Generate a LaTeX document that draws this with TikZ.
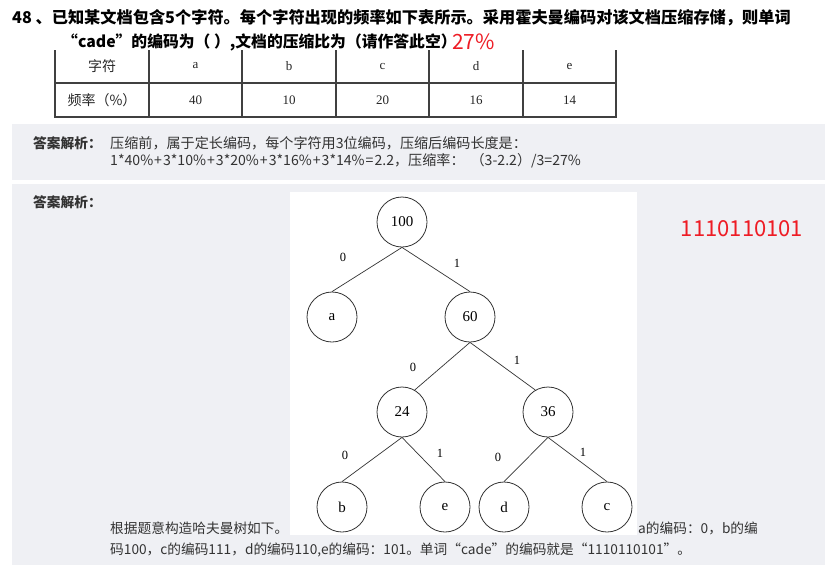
\documentclass[tikz,border=0pt]{standalone}
\usepackage{fontspec}
\newfontfamily\cjk{Noto Sans CJK SC}
\newfontfamily\tsong{Noto Sans CJK SC}
\newfontfamily\seriffont{Liberation Serif}
\definecolor{panel}{HTML}{EFF0F4}
\definecolor{ansred}{HTML}{EE1C25}
\definecolor{txt}{HTML}{333333}
\begin{document}
\begin{tikzpicture}[x=1pt,y=-1pt,
  tx/.style={inner sep=0pt, anchor=west, text=txt, font=\cjk\fontsize{13.7}{16}\selectfont},
  tt/.style={inner sep=0pt, anchor=west, text=black, font=\cjk\bfseries\fontsize{16.2}{19}\selectfont},
  tcell/.style={inner sep=0pt, text=black!85, font=\seriffont\fontsize{13}{15}\selectfont},
  tnode/.style={circle, draw=black!80, line width=0.8pt, minimum size=50pt, inner sep=0pt, font=\seriffont\fontsize{15}{17}\selectfont},
  tedge/.style={draw=black!80, line width=0.7pt},
  elab/.style={inner sep=0pt, font=\seriffont\fontsize{12.5}{14}\selectfont},
  tline/.style={draw=black!75, line width=1.6pt}]
\useasboundingbox (0,0) rectangle (840,576);
\fill[white] (0,0) rectangle (840,576);
% panels
\fill[panel] (12,124) rectangle (825,180);
\fill[panel] (12,184) rectangle (825,565);
% title
\node[tt] (t1) at (12,18) {48 、已知某文档包含5个字符。每个字符出现的频率如下表所示。采用霍夫曼编码对该文档压缩存储，则单词};
\node[tt, font=\cjk\bfseries\fontsize{15.8}{19}\selectfont] (t2) at (62,42) {“cade”的编码为（ ）,文档的压缩比为（请作答此空）};
\node[inner sep=0pt, anchor=west, text=ansred, font=\cjk\fontsize{21}{24}\selectfont] (t3) at (452,42) {27\%};
% table
\foreach \x in {55,149,242,336,429,523,616} \draw[tline] (\x,50) -- (\x,117);
\draw[tline] (55,83) -- (616,83);
\draw[tline] (54.2,117) -- (616.8,117);
\node[tcell, font=\tsong\fontsize{14}{16}\selectfont] (h0) at (102,66) {字符};
\node[tcell] (h1) at (195.5,66) {a};
\node[tcell] (h2) at (289,66) {b};
\node[tcell] (h3) at (382.5,66) {c};
\node[tcell] (h4) at (476,66) {d};
\node[tcell] (h5) at (569.5,66) {e};
\node[tcell, font=\tsong\fontsize{14}{16}\selectfont] (r0) at (102,100) {频率（\%）};
\node[tcell] (r1) at (195.5,100) {40};
\node[tcell] (r2) at (289,100) {10};
\node[tcell] (r3) at (382.5,100) {20};
\node[tcell] (r4) at (476,100) {16};
\node[tcell] (r5) at (569.5,100) {14};
% panel 1
\node[tx, font=\cjk\bfseries\fontsize{13.7}{16}\selectfont] (p1) at (33,143) {答案解析：};
\node[tx, font=\cjk\fontsize{14.1}{16}\selectfont] (p1a) at (110,143) {压缩前，属于定长编码，每个字符用3位编码，压缩后编码长度是：};
\node[tx, font=\cjk\fontsize{14.1}{16}\selectfont] (p1b) at (110,161) {1*40\%\kern1pt+\kern1pt3*10\%\kern1pt+\kern1pt3*20\%\kern1pt+\kern1pt3*16\%\kern1pt+\kern1pt3*14\%\kern1pt=\kern1pt2.2，压缩率：\hspace{6pt}（3-2.2）/3=27\%};
% panel 2
\node[tx, font=\cjk\bfseries\fontsize{13.7}{16}\selectfont] (p2) at (33,202) {答案解析：};
\fill[white] (290,192) rectangle (637,535);
\node[inner sep=0pt, text=ansred, font=\cjk\fontsize{22}{25}\selectfont] (ans) at (742,229) {1110110101};
% tree
\node[tnode] (n100) at (402,222) {100};
\node[tnode] (na) at (332,317) {a};
\node[tnode] (n60) at (470,317) {60};
\node[tnode] (n24) at (402,412) {24};
\node[tnode] (n36) at (548,412) {36};
\node[tnode] (nb) at (342,507) {b};
\node[tnode] (ne) at (445,507) {e};
\node[tnode] (nd) at (504,507) {d};
\node[tnode] (nc) at (607,507) {c};
\draw[tedge] (n100.south) -- (na.north);
\draw[tedge] (n100.south) -- (n60.north);
\draw[tedge] (n60.south) -- (n24.60);
\draw[tedge] (n60.south) -- (n36.120);
\draw[tedge] (n24.south) -- (nb.north);
\draw[tedge] (n24.south) -- (ne.north);
\draw[tedge] (n36.south) -- (nd.north);
\draw[tedge] (n36.south) -- (nc.north);
\node[elab] (l1) at (343,257) {0};
\node[elab] (l2) at (457,263) {1};
\node[elab] (l3) at (413,367) {0};
\node[elab] (l4) at (517,360) {1};
\node[elab] (l5) at (345,455) {0};
\node[elab] (l6) at (440,453) {1};
\node[elab] (l7) at (498,457) {0};
\node[elab] (l8) at (583,452) {1};
% bottom text
\node[tx] (b1) at (110,528) {根据题意构造哈夫曼树如下。};
\node[tx] (b2) at (638,528) {a的编码：0，b的编};
\node[tx] (b3) at (110,550) {码100，c的编码111，d的编码110,e的编码：101。单词“cade”的编码就是“1110110101”。};
\end{tikzpicture}
\end{document}
